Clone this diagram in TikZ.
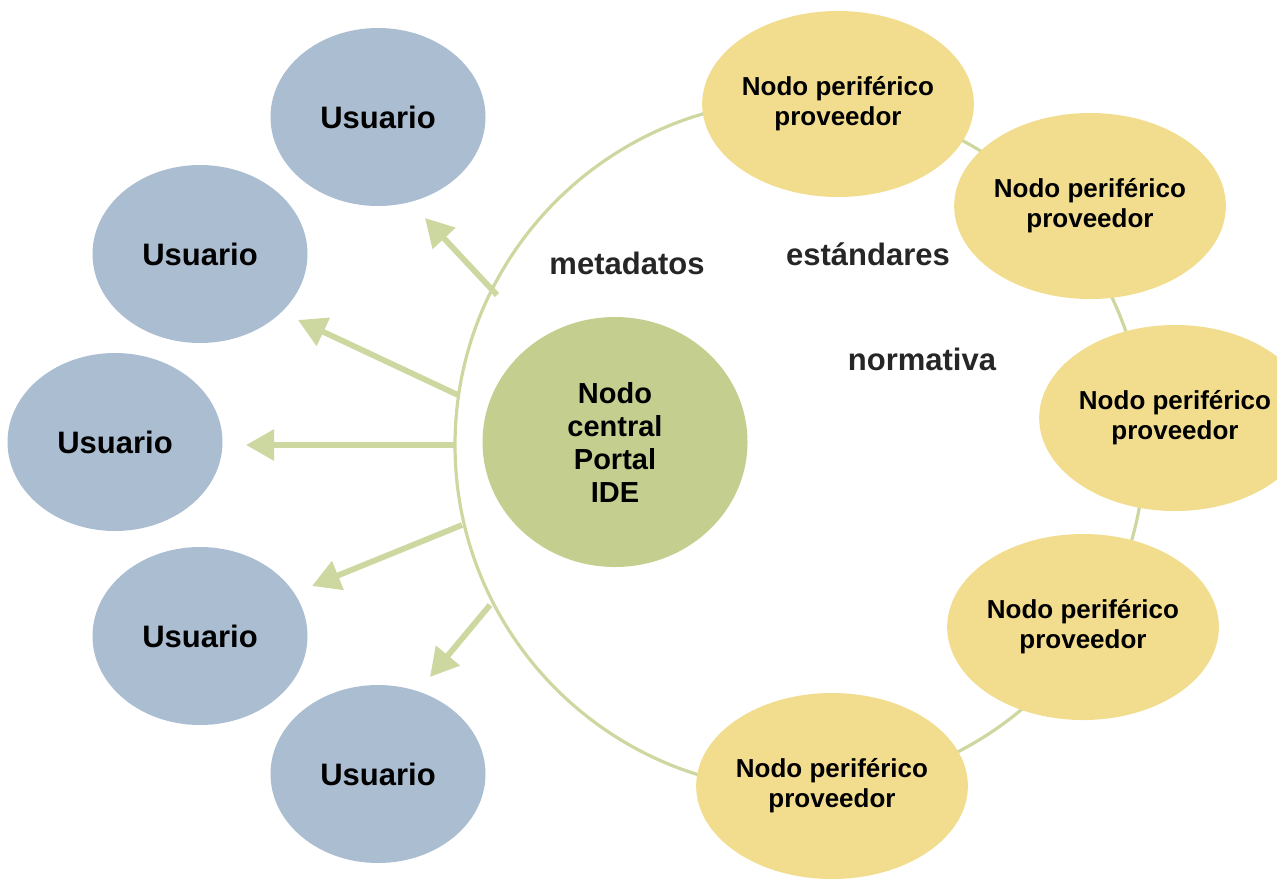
\documentclass[tikz,border=0pt]{standalone}
\usepackage{fontspec}
\setmainfont{Liberation Sans}
\usetikzlibrary{arrows.meta,shapes.geometric}
\definecolor{ublue}{RGB}{170,189,209}
\definecolor{cgreen}{RGB}{196,207,143}
\definecolor{pyellow}{RGB}{242,221,142}
\definecolor{lgreen}{RGB}{205,216,160}
\tikzset{
  user/.style={ellipse, fill=ublue, minimum width=215pt*0.5, minimum height=178pt*0.5, inner sep=0pt, font=\bfseries\fontsize{15.5}{18}\selectfont},
  prov/.style={ellipse, fill=pyellow, minimum width=228pt*0.5, minimum height=186pt*0.5, inner sep=0pt, align=center, font=\bfseries\fontsize{13}{15}\selectfont},
  hub/.style={ellipse, fill=cgreen, minimum width=265pt*0.5, minimum height=250pt*0.5, inner sep=0pt, align=center, font=\bfseries\fontsize{14.5}{16.5}\selectfont},
  lbl/.style={font=\bfseries\fontsize{15.5}{18}\selectfont, text=black!85},
  ring/.style={draw=lgreen, line width=1.6pt},
  outarrow/.style={draw=lgreen, line width=2.9pt, -{Triangle[length=14pt,width=15pt]}}
}
\begin{document}
\begin{tikzpicture}[x=0.5pt,y=-0.5pt]
\useasboundingbox (0,0) rectangle (1277,884);
% ring
\coordinate (rc) at (800,445);
\draw[ring] (rc) circle[radius=172.5pt];
% arrow coordinates
\coordinate (s1) at (497,295); \coordinate (e1) at (425,218);
\coordinate (s2) at (458,395); \coordinate (e2) at (298,320);
\coordinate (s3) at (456,445); \coordinate (e3) at (246,445);
\coordinate (s4) at (462,525); \coordinate (e4) at (312,586);
\coordinate (s5) at (490,605); \coordinate (e5) at (430,677);
\draw[outarrow] (s1) -- (e1);
\draw[outarrow] (s2) -- (e2);
\draw[outarrow] (s3) -- (e3);
\draw[outarrow] (s4) -- (e4);
\draw[outarrow] (s5) -- (e5);
% users
\node[user] (u1) at (378,117) {Usuario};
\node[user] (u2) at (200,254) {Usuario};
\node[user] (u3) at (115,442) {Usuario};
\node[user] (u4) at (200,636) {Usuario};
\node[user] (u5) at (378,774) {Usuario};
% hub
\node[hub] (c) at (615,442) {Nodo\\central\\Portal\\IDE};
% providers
\node[prov] (p1) at (838,104) {Nodo periférico\\proveedor};
\node[prov] (p2) at (1090,206) {Nodo periférico\\proveedor};
\node[prov] (p3) at (1175,418) {Nodo periférico\\proveedor};
\node[prov] (p4) at (1083,627) {Nodo periférico\\proveedor};
\node[prov] (p5) at (832,786) {Nodo periférico\\proveedor};
% labels
\node[lbl] (m) at (627,263) {metadatos};
\node[lbl] (e) at (868,254) {estándares};
\node[lbl] (n) at (922,359) {normativa};
\end{tikzpicture}
\end{document}
